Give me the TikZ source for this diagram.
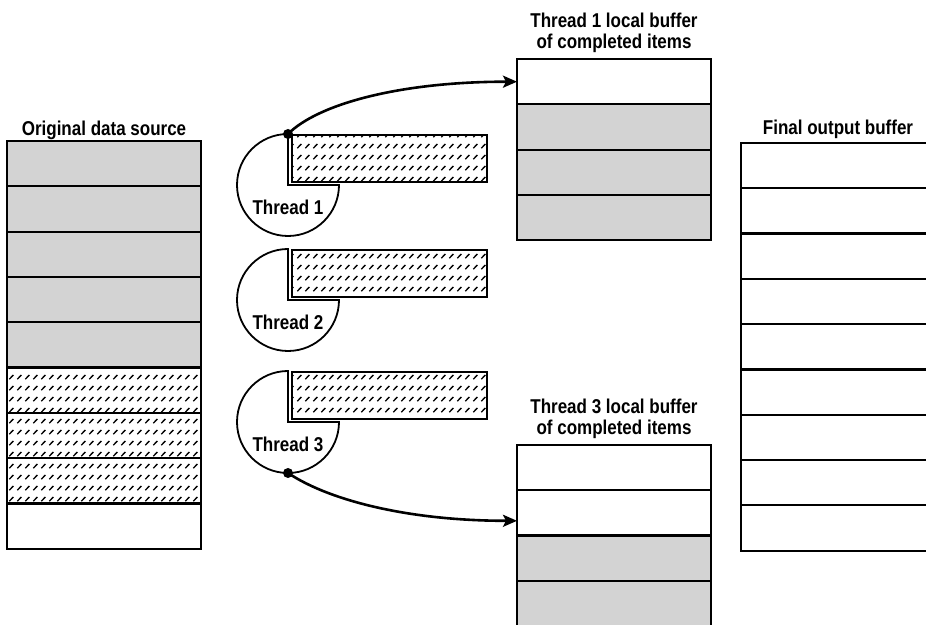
\documentclass[tikz,border=0pt]{standalone}
\usepackage{fontspec}
\setmainfont{Liberation Sans}[FakeStretch=0.85]
\usetikzlibrary{arrows.meta, positioning, calc, patterns.meta}
\definecolor{cellGray}{RGB}{211,211,211}
\tikzdeclarepattern{
    name=slashes, type=uncolored,
    bounding box={(0pt,0pt) and (8pt,11pt)},
    tile size={(8pt,11pt)},
    code={\draw[line width=1.5pt] (1.5pt,3pt) -- (6pt,7.5pt);}
}
\tikzset{
    cell/.style={rectangle, draw, line width=2.2pt, outer sep=0pt, inner sep=0pt,
                 minimum width=194pt, minimum height=45.3pt},
    grayfill/.style={fill=cellGray},
    hatchfill/.style={pattern=slashes},
    bar/.style={rectangle, draw, line width=2.2pt, outer sep=0pt, inner sep=0pt,
                pattern=slashes, minimum width=195pt, minimum height=47pt},
    pie/.style={draw, fill=white, line width=1.8pt},
    dot/.style={circle, fill, inner sep=0pt, minimum size=10pt},
    capt/.style={font=\fontsize{20}{21}\selectfont\bfseries, inner sep=0pt, align=center},
    flow/.style={-{Stealth[length=14pt, width=12pt, inset=3pt]}, line width=2.6pt}
}
\begin{document}
\begin{tikzpicture}[x=1pt, y=1pt]
    \useasboundingbox (0,0) rectangle (926,624);

    % original data source
    \node[cell, grayfill] (src1) at (104,460.3) {};
    \node[cell, grayfill, below=0pt of src1] (src2) {};
    \node[cell, grayfill, below=0pt of src2] (src3) {};
    \node[cell, grayfill, below=0pt of src3] (src4) {};
    \node[cell, grayfill, below=0pt of src4] (src5) {};
    \node[cell, hatchfill, below=0pt of src5] (src6) {};
    \node[cell, hatchfill, below=0pt of src6] (src7) {};
    \node[cell, hatchfill, below=0pt of src7] (src8) {};
    \node[cell, below=0pt of src8] (src9) {};
    \node[capt, above=6pt of src1, anchor=base] (srctitle) {Original data source};

    % thread 1 local buffer
    \node[cell] (buf1-1) at (614,542.3) {};
    \node[cell, grayfill, below=0pt of buf1-1] (buf1-2) {};
    \node[cell, grayfill, below=0pt of buf1-2] (buf1-3) {};
    \node[cell, grayfill, below=0pt of buf1-3] (buf1-4) {};
    \node[capt, above=6pt of buf1-1] (buf1title) {Thread 1 local buffer\\of completed items};

    % thread 3 local buffer
    \node[cell] (buf3-1) at (614,156.5) {};
    \node[cell, below=0pt of buf3-1] (buf3-2) {};
    \node[cell, grayfill, below=0pt of buf3-2] (buf3-3) {};
    \node[cell, grayfill, below=0pt of buf3-3] (buf3-4) {};
    \node[capt, above=6pt of buf3-1] (buf3title) {Thread 3 local buffer\\of completed items};

    % final output buffer
    \node[cell] (out1) at (838,458.4) {};
    \node[cell, below=0pt of out1] (out2) {};
    \node[cell, below=0pt of out2] (out3) {};
    \node[cell, below=0pt of out3] (out4) {};
    \node[cell, below=0pt of out4] (out5) {};
    \node[cell, below=0pt of out5] (out6) {};
    \node[cell, below=0pt of out6] (out7) {};
    \node[cell, below=0pt of out7] (out8) {};
    \node[cell, below=0pt of out8] (out9) {};
    \node[capt, above=8pt of out1, anchor=base] (outtitle) {Final output buffer};

    % threads
    \coordinate (core1) at (288,439);
    \coordinate (core2) at (288,324);
    \coordinate (core3) at (288,202);
    \draw[pie] (core1) -- ++(51,0) arc[start angle=0, end angle=-270, radius=51] -- cycle;
    \draw[pie] (core2) -- ++(51,0) arc[start angle=0, end angle=-270, radius=51] -- cycle;
    \draw[pie] (core3) -- ++(51,0) arc[start angle=0, end angle=-270, radius=51] -- cycle;
    \node[bar, above right=3pt and 4pt of core1] (job1) {};
    \node[bar, above right=3pt and 4pt of core2] (job2) {};
    \node[bar, above right=3pt and 4pt of core3] (job3) {};
    \node[capt] (th1) at ($(core1)+(0,-22)$) {Thread 1};
    \node[capt] (th2) at ($(core2)+(0,-22)$) {Thread 2};
    \node[capt] (th3) at ($(core3)+(0,-22)$) {Thread 3};
    \node[dot] (dot1) at ($(core1)+(0,51)$) {};
    \node[dot] (dot3) at ($(core3)+(0,-51)$) {};

    \draw[flow] (dot1.center) .. controls +(30,30) and +(-117,0) .. (buf1-1.west);
    \draw[flow] (dot3.center) .. controls +(42,-28) and +(-107,0) .. ([yshift=-8pt]buf3-2.west);
\end{tikzpicture}
\end{document}
